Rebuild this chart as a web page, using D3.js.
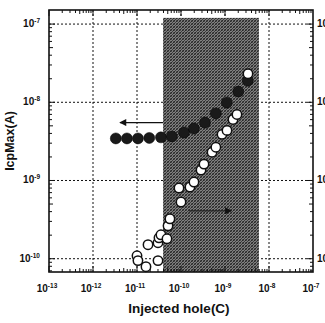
<!DOCTYPE html>
<html>
<head>
<meta charset="utf-8">
<script src="https://cdn.jsdelivr.net/npm/d3@7"></script>
<style>
  html, body { margin: 0; padding: 0; background: #fff; }
  svg { display: block; font-family: "Liberation Sans", Arial, sans-serif; }
</style>
</head>
<body>
<svg id="svg"></svg>
<script>
// closed circles: IcpMax vs injected hole (left arrow)
const filledX = [3.3e-12, 5.9e-12, 1.05e-11, 1.9e-11, 3.5e-11, 6.2e-11, 1.17e-10, 1.97e-10, 3.5e-10, 6.2e-10, 1.1e-9, 2.0e-9, 3.3e-9];
const filledY = [3.45e-9, 3.45e-9, 3.45e-9, 3.5e-9, 3.56e-9, 3.66e-9, 4.1e-9, 4.63e-9, 5.5e-9, 7.2e-9, 9.9e-9, 1.37e-8, 1.89e-8];

// open circles (right arrow)
const openX = [1.0e-11, 1.05e-11, 1.6e-11, 1.78e-11, 3.0e-11, 3.0e-11, 3.16e-11, 3.5e-11, 4.8e-11, 5.07e-11, 5.6e-11, 9.0e-11,
  1.0e-10, 1.6e-10, 1.97e-10, 2.85e-10, 3.33e-10, 5.07e-10, 6.2e-10, 8.55e-10, 1.11e-9, 1.52e-9, 1.87e-9, 3.33e-9];
const openY = [1.09e-10, 9.46e-11, 7.9e-11, 1.51e-10, 1.6e-10, 9.46e-11, 1.85e-10, 2.02e-10, 1.8e-10, 2.63e-10, 3.24e-10, 8.0e-10,
  5.3e-10, 8.24e-10, 9.55e-10, 1.36e-9, 1.62e-9, 2.3e-9, 2.66e-9, 3.89e-9, 4.37e-9, 6.03e-9, 6.98e-9, 2.32e-8];

const xTickExp = [-13, -12, -11, -10, -9, -8, -7];
const yTickExp = [-10, -9, -8, -7];
const shadeX = [3.9e-11, 5.9e-9];
const shadeTop = 1.2e-7;

const W = 325, H = 323;
const pad = {left: 49, right: 12, top: 10, bottom: 51};

const svg = d3.select('#svg').attr('width', W).attr('height', H);

const xScale = d3.scaleLog().domain([1e-13, 1e-7]).range([pad.left, W - pad.right]);
const yScale = d3.scaleLog().domain([10 ** -10.17, 10 ** -6.82]).range([H - pad.bottom, pad.top]);

const x0 = xScale.range()[0], x1 = xScale.range()[1];
const yb = yScale.range()[0], yt = yScale.range()[1];

// hatch pattern
const defs = svg.append('defs');
const pat = defs.append('pattern')
  .attr('id', 'hatch').attr('patternUnits', 'userSpaceOnUse')
  .attr('width', 3).attr('height', 3);
pat.append('rect').attr('width', 3).attr('height', 3).attr('fill', '#a8a8a8');
pat.append('path').attr('d', 'M0,3 L3,0 M-1,1 L1,-1 M2,4 L4,2').attr('stroke', '#222').attr('stroke-width', 1.2);
pat.append('path').attr('d', 'M0,0 L3,3').attr('stroke', '#444').attr('stroke-width', 0.8);

// gridlines
const grid = svg.append('g').attr('stroke', '#111').attr('stroke-width', 1).attr('stroke-dasharray', '2,2');
xTickExp.slice(1, -1).forEach(e => {
  grid.append('line').attr('x1', xScale(10 ** e)).attr('x2', xScale(10 ** e)).attr('y1', yt).attr('y2', yb);
});
yTickExp.forEach(e => {
  grid.append('line').attr('x1', x0).attr('x2', x1).attr('y1', yScale(10 ** e)).attr('y2', yScale(10 ** e));
});

// shaded region
svg.append('rect')
  .attr('x', xScale(shadeX[0]))
  .attr('width', xScale(shadeX[1]) - xScale(shadeX[0]))
  .attr('y', yScale(shadeTop))
  .attr('height', yb - yScale(shadeTop))
  .attr('fill', 'url(#hatch)');

// minor/major ticks, all four sides, pointing inward
const ticks = svg.append('g').attr('stroke', '#111').attr('stroke-width', 1);
for (let e = -13; e < -7; e++) {
  for (let m = 1; m < 10; m++) {
    const xv = xScale(m * 10 ** e);
    const len = m === 1 ? 6 : (m === 5 ? 4 : 3);
    ticks.append('line').attr('x1', xv).attr('x2', xv).attr('y1', yb).attr('y2', yb - len);
    ticks.append('line').attr('x1', xv).attr('x2', xv).attr('y1', yt).attr('y2', yt + len);
  }
}
for (let e = -11; e < -6; e++) {
  for (let m = 1; m < 10; m++) {
    const v = m * 10 ** e;
    if (v < yScale.domain()[0] || v > yScale.domain()[1]) continue;
    const yv = yScale(v);
    const len = m === 1 ? 6 : (m === 5 ? 4 : 3);
    ticks.append('line').attr('x1', x0).attr('x2', x0 + len).attr('y1', yv).attr('y2', yv);
    ticks.append('line').attr('x1', x1).attr('x2', x1 - len).attr('y1', yv).attr('y2', yv);
  }
}

// frame
svg.append('rect').attr('x', x0).attr('y', yt).attr('width', x1 - x0).attr('height', yb - yt)
  .attr('fill', 'none').attr('stroke', '#111').attr('stroke-width', 1.6);

// tick labels
function power(sel, e) {
  sel.append('tspan').text('10');
  sel.append('tspan').attr('dy', -4).attr('font-size', 6.5).text(e);
}
xTickExp.forEach(e => {
  const t = svg.append('text').attr('x', xScale(10 ** e) - 2).attr('y', yb + 20)
    .attr('text-anchor', 'middle').attr('font-size', 10).attr('font-weight', 'bold').attr('fill', '#111');
  power(t, e);
});
yTickExp.forEach(e => {
  const t = svg.append('text').attr('x', x0 - 9).attr('y', yScale(10 ** e) + 3)
    .attr('text-anchor', 'end').attr('font-size', 10).attr('font-weight', 'bold').attr('fill', '#111');
  power(t, e);
  // right-hand labels run off the picture edge, as in the source image
  const r = svg.append('text').attr('x', x1 + 4).attr('y', yScale(10 ** e) + 3)
    .attr('font-size', 10).attr('font-weight', 'bold').attr('fill', '#111');
  power(r, e);
});

// axis titles
svg.append('text').attr('x', (x0 + x1) / 2 - 2).attr('y', H - 10)
  .attr('text-anchor', 'middle').attr('font-size', 13.5).attr('font-weight', 'bold').attr('fill', '#111')
  .text('Injected hole(C)');
svg.append('text').attr('transform', `translate(14,${(yt + yb) / 2}) rotate(-90)`)
  .attr('text-anchor', 'middle').attr('font-size', 12.5).attr('font-weight', 'bold').attr('fill', '#111')
  .text('IcpMax(A)');

// arrows
defs.append('marker').attr('id', 'arr').attr('viewBox', '0 0 10 10')
  .attr('refX', 9).attr('refY', 5).attr('markerWidth', 9).attr('markerHeight', 7)
  .attr('markerUnits', 'userSpaceOnUse').attr('orient', 'auto')
  .append('path').attr('d', 'M0,0 L10,5 L0,10 z').attr('fill', '#111');
svg.append('line')
  .attr('x1', xScale(3.9e-11)).attr('x2', xScale(4.1e-12))
  .attr('y1', yScale(5.5e-9)).attr('y2', yScale(5.5e-9))
  .attr('stroke', '#111').attr('stroke-width', 1.2).attr('marker-end', 'url(#arr)');
svg.append('line')
  .attr('x1', xScale(1.5e-10)).attr('x2', xScale(1.4e-9))
  .attr('y1', yScale(4.1e-10)).attr('y2', yScale(4.1e-10))
  .attr('stroke', '#222').attr('stroke-width', 1.2).attr('marker-end', 'url(#arr)');

// points
const filled = d3.zip(filledX, filledY);
const open = d3.zip(openX, openY);

svg.append('g').selectAll('circle').data(filled).join('circle')
  .attr('cx', d => xScale(d[0])).attr('cy', d => yScale(d[1])).attr('r', 5.5)
  .attr('fill', '#1a1a1a').attr('stroke', '#000').attr('stroke-width', 0.5);

svg.append('g').selectAll('circle').data(open).join('circle')
  .attr('cx', d => xScale(d[0])).attr('cy', d => yScale(d[1])).attr('r', 4.7)
  .attr('fill', '#fff').attr('stroke', '#111').attr('stroke-width', 1.5);
</script>
</body>
</html>
